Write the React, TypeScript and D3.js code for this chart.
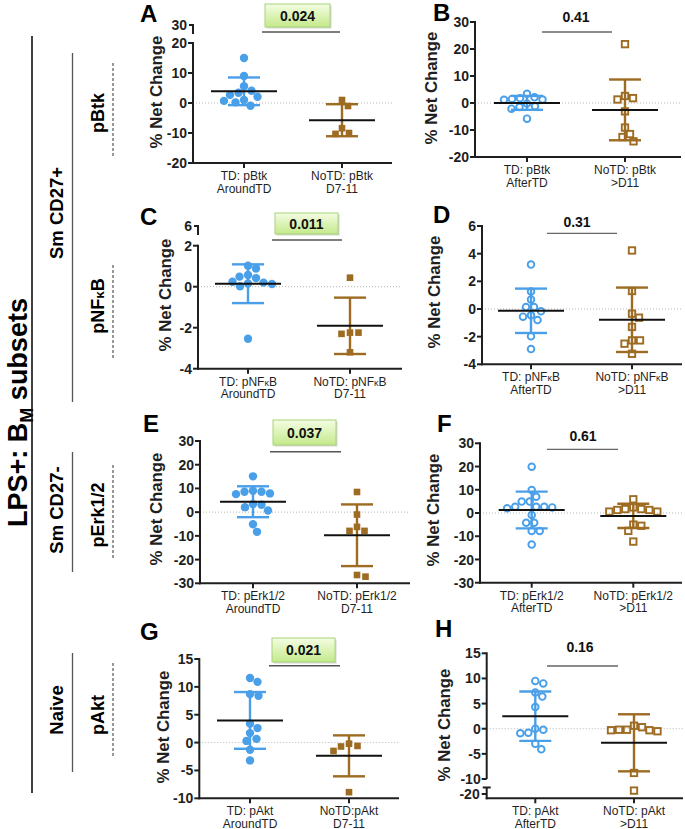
import React from "react";
import * as d3 from "d3";

const FONT = '"Liberation Sans", Arial, Helvetica, sans-serif';
const BLUE = "#4a9fe9";
const BROWN = "#9d6b22";
const INK = "#1f1f1f";

// ---------------- data ----------------
const panelLetters = ["A", "B", "C", "D", "E", "F", "G", "H"];
const pValueLabels = ["0.024", "0.41", "0.011", "0.31", "0.037", "0.61", "0.021", "0.16"];
const pHighlighted = [true, false, true, false, true, false, true, false];

const tdCategoryLabels = [
  ["TD: pBtk", "AroundTD"],
  ["TD: pBtk", "AfterTD"],
  ["TD: pNFκB", "AroundTD"],
  ["TD: pNFκB", "AfterTD"],
  ["TD: pErk1/2", "AroundTD"],
  ["TD: pErk1/2", "AfterTD"],
  ["TD: pAkt", "AroundTD"],
  ["TD: pAkt", "AfterTD"],
];
const noTdCategoryLabels = [
  ["NoTD: pBtk", "D7-11"],
  ["NoTD: pBtk", ">D11"],
  ["NoTD: pNFκB", "D7-11"],
  ["NoTD: pNFκB", ">D11"],
  ["NoTD: pErk1/2", "D7-11"],
  ["NoTD: pErk1/2", ">D11"],
  ["NoTD:pAkt", "D7-11"],
  ["NoTD: pAkt", ">D11"],
];

const yDomains = [[-20, 20], [-20, 30], [-4, 2], [-4, 6], [-30, 30], [-30, 30], [-10, 15], [-10, 15]];
const yTicks = [
  [-20, -10, 0, 10, 20],
  [-20, -10, 0, 10, 20, 30],
  [-4, -2, 0, 2],
  [-4, -2, 0, 2, 4, 6],
  [-30, -20, -10, 0, 10, 20, 30],
  [-30, -20, -10, 0, 10, 20, 30],
  [-10, -5, 0, 5, 10, 15],
  [-10, -5, 0, 5, 10, 15],
];
const breakTickValues: (number | null)[] = [30, null, 6, null, null, null, null, -20];

const tdValues = [
  [15, 9, 5.6, 4.1, 3.4, 2.7, 2.1, 1.0, 0.7, 0.2, -0.9],
  [3.4, 2.1, 1.8, 1.5, 1.3, 1.2, -0.2, -1.2, -1.5, -2.1, -5.8],
  [1.02, 0.89, 0.57, 0.49, 0.42, 0.24, 0.2, 0.16, 0.13, 0.02, -2.54],
  [3.21, 1.26, 0.68, 0.14, 0.14, -0.17, -0.46, -0.56, -0.8, -1.98, -2.9],
  [15.1, 9.0, 8.6, 8.6, 7.9, 7.6, 3.4, 3.1, 2.1, 0.7, -5.1, -8.3],
  [19.9, 9.9, 7.0, 4.9, 4.9, 2.7, 2.7, 2.7, 2.4, 2.0, -0.9, -4.2, -4.2, -7.7, -7.7, -13.6],
  [11.6, 10.9, 8.7, 8.4, 3.4, 2.6, 1.7, 0.66, 0.3, -1.3, -3.2],
  [9.5, 9.0, 7.2, 6.4, 4.3, 0, -0.2, -0.8, -0.9, -3.0, -4.1],
];
const noTdValues = [
  [1.0, -1.0, -8.4, -10.0, -10.3],
  [21.8, 2.6, 1.8, 1.3, -3.1, -9.1, -11.5, -12.6, -14.2],
  [0.44, -2.24, -2.3, -2.24, -3.2],
  [4.23, 1.3, -0.34, -0.63, -1.3, -2.27, -2.27, -2.51, -3.24],
  [8.5, -1.0, -6.2, -7.9, -7.9, -26.5, -27.2],
  [5.9, 2.4, 1.7, 1.7, 1.3, 1.3, 0.6, 0.6, -5.0, -5.5, -7.7, -12.3],
  [-0.2, -0.6, -0.7, -1.5, -8.9],
  [0.6, 0.3, -0.2, -0.2, -0.3, -0.3, -0.5, -8.8, -15.8],
];

const mainTitle = ["LPS+: B", "M", " subsets"];
const subsetLabels = ["Sm CD27+", "Sm CD27-", "Naive"];
const markerLabels = ["pBtk", "pNFκB", "pErk1/2", "pAkt"];
const yAxisTitle = "% Net Change";

// ---------------- layout (pixels) ----------------
type Layout = {
  letter: [number, number];
  axisX: number;
  yRange: [number, number];
  xAxisY: number;
  catX: [number, number];
  xEnd: number;
  title: [number, number];
  p: { lineY: number; x1: number; x2: number; textX?: number; textY?: number; box?: [number, number, number, number] };
  brkY?: number;
  low?: { domain: [number, number]; range: [number, number]; top: number };
};

const layout: Layout[] = [
  { letter: [140, 22], axisX: 193, yRange: [163, 43], xAxisY: 163, catX: [244, 342], xEnd: 392, title: [162, 92], p: { lineY: 32, x1: 262, x2: 340, box: [265, 4, 65, 23] }, brkY: 25 },
  { letter: [433, 21], axisX: 475, yRange: [157, 22], xAxisY: 157, catX: [527, 625], xEnd: 681, title: [437, 88], p: { lineY: 32, x1: 542, x2: 612, textX: 576, textY: 22 } },
  { letter: [140, 225], axisX: 198, yRange: [368.7, 245.7], xAxisY: 368.7, catX: [248, 350], xEnd: 402, title: [171, 295], p: { lineY: 240, x1: 272, x2: 342, box: [275, 213, 63, 21] }, brkY: 226 },
  { letter: [433, 223], axisX: 482, yRange: [364.3, 226], xAxisY: 364.3, catX: [531, 632], xEnd: 682, title: [440, 292], p: { lineY: 233.3, x1: 547, x2: 617, textX: 577, textY: 227 } },
  { letter: [143, 432], axisX: 200, yRange: [583.3, 441], xAxisY: 583.3, catX: [253, 357], xEnd: 410, title: [162, 509], p: { lineY: 451.7, x1: 270, x2: 341, box: [273, 420, 63, 25] } },
  { letter: [437, 432], axisX: 480, yRange: [582.7, 443.3], xAxisY: 582.7, catX: [531.7, 633.3], xEnd: 682, title: [439, 510], p: { lineY: 449.3, x1: 547, x2: 618, textX: 583, textY: 441 } },
  { letter: [140, 640], axisX: 199.3, yRange: [798.3, 659], xAxisY: 798.3, catX: [250, 349], xEnd: 399, title: [169, 727], p: { lineY: 665.7, x1: 269, x2: 340, box: [272, 638, 63, 24] } },
  { letter: [435, 637], axisX: 486.7, yRange: [779, 653.3], xAxisY: 798.3, catX: [535.3, 634], xEnd: 683, title: [450, 725], p: { lineY: 666, x1: 547, x2: 618, textX: 580, textY: 652 }, low: { domain: [-20, -12], range: [794, 787.5], top: 787.5 } },
];

const subsetLayout = [
  { cy: 213, y1: 53, y2: 402 },
  { cy: 510, y1: 452, y2: 572 },
  { cy: 710, y1: 653, y2: 772 },
];
const markerLayout = [
  { cy: 113, y1: 63, y2: 158 },
  { cy: 306, y1: 265, y2: 360 },
  { cy: 515, y1: 465, y2: 560 },
  { cy: 715, y1: 663, y2: 758 },
];

// ---------------- helpers ----------------
function rich(s: string) {
  const parts = s.split("κ");
  const out: React.ReactNode[] = [];
  parts.forEach((p, k) => {
    if (k > 0) out.push(<tspan key={"k" + k} fontSize="0.75em">κ</tspan>);
    out.push(p);
  });
  return out;
}

function swarm(ys: number[], d: number): number[] {
  const order = d3.range(ys.length).sort((a, b) => ys[a] - ys[b]);
  const placed: { x: number; y: number }[] = [];
  const xs = new Array(ys.length).fill(0);
  for (const i of order) {
    const yv = ys[i];
    const ok = (xv: number) => placed.every((p) => (p.x - xv) ** 2 + (p.y - yv) ** 2 >= d * d - 0.01);
    let best = 0;
    if (!ok(0)) {
      const bias = d3.sum(placed, (p) => (Math.abs(p.y - yv) < d ? p.x : 0));
      for (let s = 0.5; s < 120; s += 0.5) {
        const first = bias > 0 ? -s : s;
        if (ok(first)) { best = first; break; }
        if (ok(-first)) { best = -first; break; }
      }
    }
    xs[i] = best;
    placed.push({ x: best, y: yv });
  }
  return xs;
}

function Panel({ i }: { i: number }) {
  const L = layout[i];
  const [d0, d1] = yDomains[i];
  const y = d3.scaleLinear().domain([d0, d1]).range(L.yRange);
  const yLow = L.low ? d3.scaleLinear().domain(L.low.domain).range(L.low.range) : null;
  const yPos = (v: number) => (yLow && v < d0 ? yLow(v) : y(v));
  const x = d3.scalePoint<string>().domain(["TD", "NoTD"]).range(L.catX);
  const open = i % 2 === 1;
  const groups = [
    { key: "TD", values: tdValues[i], color: BLUE, shape: "circle", labels: tdCategoryLabels[i] },
    { key: "NoTD", values: noTdValues[i], color: BROWN, shape: "square", labels: noTdCategoryLabels[i] },
  ];
  const ax = L.axisX;
  const brk = breakTickValues[i];
  const gradId = "grad" + i;

  return (
    <g>
      <text x={L.letter[0]} y={L.letter[1]} fontFamily={FONT} fontWeight="bold" fontSize={24} fill="#000">
        {panelLetters[i]}
      </text>
      <text
        transform={`translate(${L.title[0]},${L.title[1]}) rotate(-90)`}
        textAnchor="middle"
        fontFamily={FONT}
        fontWeight="bold"
        fontSize={16.8}
        fill={INK}
      >
        {yAxisTitle}
      </text>
      <line x1={ax} x2={L.xEnd} y1={y(0)} y2={y(0)} stroke="#b5b5b5" strokeWidth={1} strokeDasharray="1 2" />
      <line x1={ax} x2={ax} y1={y(d1) - 1} y2={yLow ? y(d0) : L.xAxisY + 1} stroke={INK} strokeWidth={2} />
      {yTicks[i].map((t) => (
        <g key={t}>
          <line x1={ax - 5} x2={ax} y1={y(t)} y2={y(t)} stroke={INK} strokeWidth={2} />
          <text x={ax - 6} y={y(t)} dy="0.36em" textAnchor="end" fontFamily={FONT} fontWeight="bold" fontSize={14} fill={INK}>
            {t}
          </text>
        </g>
      ))}
      {brk !== null && !yLow && L.brkY !== undefined && (
        <g>
          <line x1={ax - 4} x2={ax} y1={L.brkY} y2={L.brkY} stroke={INK} strokeWidth={2} />
          <line x1={ax} x2={ax} y1={L.brkY - 1} y2={L.brkY + 9} stroke={INK} strokeWidth={2} />
          <text x={ax - 6} y={L.brkY} dy="0.36em" textAnchor="end" fontFamily={FONT} fontWeight="bold" fontSize={14} fill={INK}>
            {brk}
          </text>
        </g>
      )}
      {brk !== null && yLow && L.low && (
        <g>
          <line x1={ax} x2={ax} y1={L.low.top} y2={L.xAxisY + 1} stroke={INK} strokeWidth={2} />
          <line x1={ax - 4} x2={ax + 4} y1={L.low.top} y2={L.low.top} stroke={INK} strokeWidth={2} />
          <line x1={ax - 5} x2={ax} y1={yLow(brk)} y2={yLow(brk)} stroke={INK} strokeWidth={2} />
          <text x={ax - 7} y={yLow(brk)} dy="0.36em" textAnchor="end" fontFamily={FONT} fontWeight="bold" fontSize={14} fill={INK}>
            {brk}
          </text>
        </g>
      )}
      <line x1={ax - 1} x2={L.xEnd} y1={L.xAxisY} y2={L.xAxisY} stroke={INK} strokeWidth={2} />
      {groups.map((g) => {
        const cx = x(g.key) as number;
        return (
          <g key={g.key}>
            <line x1={cx} x2={cx} y1={L.xAxisY} y2={L.xAxisY + 5} stroke={INK} strokeWidth={2} />
            <text x={cx} y={L.xAxisY + 17} textAnchor="middle" fontFamily={FONT} fontSize={12} fill={INK}>
              {rich(g.labels[0])}
            </text>
            <text x={cx} y={L.xAxisY + 29.5} textAnchor="middle" fontFamily={FONT} fontSize={12} fill={INK}>
              {rich(g.labels[1])}
            </text>
          </g>
        );
      })}
      {groups.map((g) => {
        const cx = x(g.key) as number;
        const ys = g.values.map(yPos);
        const dx = swarm(ys, open ? 8 : 8.4);
        const m = d3.mean(g.values) as number;
        const sd = d3.deviation(g.values) as number;
        return (
          <g key={g.key}>
            <line x1={cx} x2={cx} y1={y(m + sd)} y2={y(m - sd)} stroke={g.color} strokeWidth={2.4} />
            <line x1={cx - 16} x2={cx + 16} y1={y(m + sd)} y2={y(m + sd)} stroke={g.color} strokeWidth={2.4} />
            <line x1={cx - 16} x2={cx + 16} y1={y(m - sd)} y2={y(m - sd)} stroke={g.color} strokeWidth={2.4} />
            {g.values.map((v, k) => {
              const px = cx + dx[k];
              const py = ys[k];
              if (g.shape === "circle") {
                return open ? (
                  <circle key={k} cx={px} cy={py} r={3.3} fill="none" stroke={g.color} strokeWidth={1.9} />
                ) : (
                  <circle key={k} cx={px} cy={py} r={4.2} fill={g.color} />
                );
              }
              return open ? (
                <rect key={k} x={px - 3.2} y={py - 3.2} width={6.4} height={6.4} fill="none" stroke={g.color} strokeWidth={1.9} />
              ) : (
                <rect key={k} x={px - 3.3} y={py - 3.3} width={6.6} height={6.6} fill={g.color} />
              );
            })}
            <line x1={cx - 33} x2={cx + 33} y1={y(m)} y2={y(m)} stroke="#111" strokeWidth={2} />
          </g>
        );
      })}
      {pHighlighted[i] && L.p.box ? (
        <g>
          <defs>
            <linearGradient id={gradId} x1="0" y1="0" x2="0" y2="1">
              <stop offset="0%" stopColor="#f4fde3" />
              <stop offset="100%" stopColor="#c4e98a" />
            </linearGradient>
          </defs>
          <rect x={L.p.box[0] + 1.5} y={L.p.box[1] + 1.5} width={L.p.box[2]} height={L.p.box[3]} fill="#d6d6d6" />
          <rect x={L.p.box[0]} y={L.p.box[1]} width={L.p.box[2]} height={L.p.box[3]} fill={`url(#${gradId})`} stroke="#a8d47a" strokeWidth={1} />
          <text
            x={L.p.box[0] + L.p.box[2] / 2}
            y={L.p.box[1] + L.p.box[3] / 2}
            dy="0.36em"
            textAnchor="middle"
            fontFamily={FONT}
            fontWeight="bold"
            fontSize={14}
            fill="#111"
          >
            {pValueLabels[i]}
          </text>
          <line x1={L.p.x1} x2={L.p.x2} y1={L.p.lineY} y2={L.p.lineY} stroke="#555" strokeWidth={1.6} />
        </g>
      ) : (
        <g>
          <text x={L.p.textX} y={L.p.textY} textAnchor="middle" fontFamily={FONT} fontWeight="bold" fontSize={14} fill="#111">
            {pValueLabels[i]}
          </text>
          <line x1={L.p.x1} x2={L.p.x2} y1={L.p.lineY} y2={L.p.lineY} stroke="#666" strokeWidth={1.3} />
        </g>
      )}
    </g>
  );
}

export default function App() {
  return (
    <svg
      width={685}
      height={829}
      viewBox="0 0 685 829"
      style={{ position: "absolute", left: 0, top: 0, display: "block", background: "#fff" }}
    >
      <rect x={0} y={0} width={685} height={829} fill="#fff" />
      <text
        transform="translate(27,412.5) rotate(-90)"
        textAnchor="middle"
        fontFamily={FONT}
        fontWeight="bold"
        fontSize={27}
        fill="#000"
      >
        <tspan>{mainTitle[0]}</tspan>
        <tspan dy={6} fontSize={18}>{mainTitle[1]}</tspan>
        <tspan dy={-6}>{mainTitle[2]}</tspan>
      </text>
      <line x1={32} x2={32} y1={36} y2={793} stroke="#111" strokeWidth={1.6} />
      {subsetLabels.map((s, k) => (
        <g key={s}>
          <text
            transform={`translate(62.5,${subsetLayout[k].cy}) rotate(-90)`}
            textAnchor="middle"
            fontFamily={FONT}
            fontWeight="bold"
            fontSize={18.5}
            fill="#000"
          >
            {s}
          </text>
          <line x1={72.5} x2={72.5} y1={subsetLayout[k].y1} y2={subsetLayout[k].y2} stroke="#555" strokeWidth={1.3} />
        </g>
      ))}
      {markerLabels.map((s, k) => (
        <g key={s}>
          <text
            transform={`translate(104,${markerLayout[k].cy}) rotate(-90)`}
            textAnchor="middle"
            fontFamily={FONT}
            fontWeight="bold"
            fontSize={18}
            fill="#000"
          >
            {rich(s)}
          </text>
          <line x1={113} x2={113} y1={markerLayout[k].y1} y2={markerLayout[k].y2} stroke="#333" strokeWidth={1} strokeDasharray="3 2" />
        </g>
      ))}
      {panelLetters.map((_, i) => (
        <Panel key={i} i={i} />
      ))}
    </svg>
  );
}
